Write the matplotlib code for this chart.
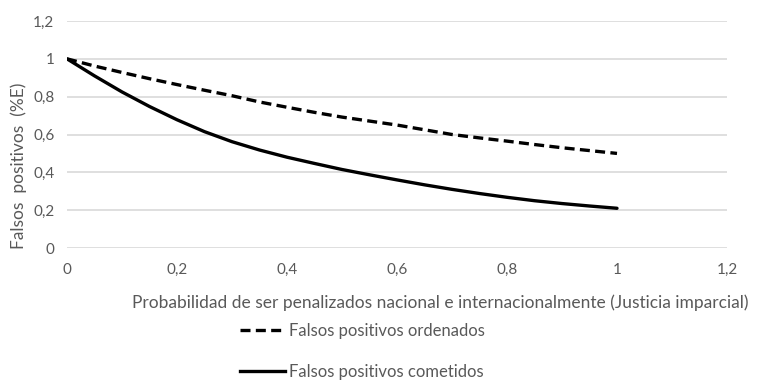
import matplotlib
matplotlib.use("Agg")
import matplotlib.pyplot as plt
from matplotlib.ticker import FuncFormatter
from matplotlib.lines import Line2D

# data
prob = [0.0, 0.05, 0.1, 0.15, 0.2, 0.25, 0.3, 0.35, 0.4, 0.45, 0.5,
        0.55, 0.6, 0.65, 0.7, 0.75, 0.8, 0.85, 0.9, 0.95, 1.0]
fp_ordenados = [1.0, 0.962, 0.928, 0.895, 0.864, 0.834, 0.805, 0.772, 0.744, 0.717, 0.692,
                0.671, 0.65, 0.625, 0.60, 0.582, 0.565, 0.547, 0.53, 0.515, 0.50]
fp_cometidos = [1.0, 0.91, 0.825, 0.748, 0.678, 0.615, 0.562, 0.518, 0.48, 0.447, 0.415,
                0.387, 0.36, 0.334, 0.31, 0.288, 0.268, 0.25, 0.235, 0.222, 0.21]
ticks = [0, 0.2, 0.4, 0.6, 0.8, 1.0, 1.2]

gray = "#595959"
DASH = (0, (3.0, 1.6))
plt.rcParams['font.family'] = ['Lato', 'DejaVu Sans']

fig = plt.figure(figsize=(7.67, 3.91), dpi=100)
ax = fig.add_axes([67/767, 1 - 248/391, 660/767, 227/391])

ax.plot(prob, fp_ordenados, color='black', lw=2.4, linestyle=DASH,
        solid_capstyle='butt')
ax.plot(prob, fp_cometidos, color='black', lw=2.4, solid_capstyle='round')

def comma(v, pos):
    s = ('%.1f' % v).rstrip('0').rstrip('.')
    return s.replace('.', ',')

ax.set_xlim(0, 1.2)
ax.set_ylim(0, 1.2)
ax.set_xticks(ticks)
ax.set_yticks(ticks)
ax.xaxis.set_major_formatter(FuncFormatter(comma))
ax.yaxis.set_major_formatter(FuncFormatter(comma))
ax.grid(True, axis='y', color='#d9d9d9', lw=1.2)
ax.set_axisbelow(True)
for s in ax.spines.values():
    s.set_visible(False)
ax.tick_params(length=0, colors=gray, labelsize=11)
ax.tick_params(axis='x', pad=11)
ax.tick_params(axis='y', pad=9)

fig.text(440/767, 1 - 303/391, 'Probabilidad de ser penalizados nacional e internacionalmente (Justicia imparcial)',
         ha='center', va='center', color=gray, fontsize=12.5)
fig.text(19/767, 1 - 166/391, 'Falsos  positivos  (%E)', rotation=90,
         ha='center', va='center', color=gray, fontsize=12.5)

handles = [Line2D([], [], color='black', lw=2.4, linestyle=DASH),
           Line2D([], [], color='black', lw=2.4)]
leg = fig.legend(handles, ['Falsos positivos ordenados', 'Falsos positivos cometidos'],
                 loc='upper left', bbox_to_anchor=(240/767, 1 - 323/391),
                 frameon=False, fontsize=12, labelspacing=1.5,
                 borderpad=0, borderaxespad=0,
                 handlelength=2.7, handletextpad=0.25)
for t in leg.get_texts():
    t.set_color(gray)

fig.savefig('out.png', dpi=100)
